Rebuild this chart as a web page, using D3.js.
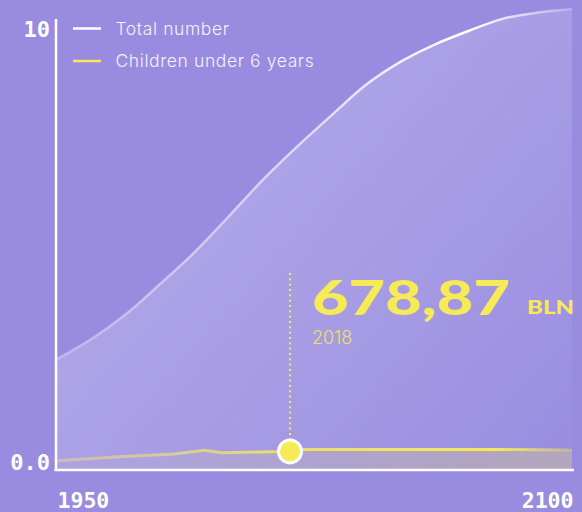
<!DOCTYPE html>
<html>
<head>
<meta charset="utf-8">
<script src="https://cdn.jsdelivr.net/npm/d3@7"></script>
<style>
  html, body { margin: 0; padding: 0; background: #988be0; }
  svg { display: block; }
</style>
</head>
<body>
<div id="chart"></div>
<script>
  // total population, billions
  const totalYears = [1950, 1960, 1970, 1980, 1990, 2000, 2010, 2020, 2030, 2040, 2050, 2060, 2070, 2080, 2090, 2100];
  const totalValues = [2.38, 2.84, 3.41, 4.11, 4.84, 5.67, 6.52, 7.29, 8.01, 8.71, 9.24, 9.64, 9.96, 10.24, 10.38, 10.46];

  // children under 6
  const childYears = [1950, 1968, 1984, 1993, 1998, 2008, 2018, 2022, 2040, 2060, 2080, 2095, 2100];
  const childValues = [0.03, 0.12, 0.185, 0.27, 0.215, 0.23, 0.245, 0.29, 0.29, 0.29, 0.29, 0.285, 0.28];

  const yTicks = [0, 10];
  const yTickLabels = ['0.0', '10'];
  const xTicks = [1950, 2100];
  const seriesNames = ['Total number', 'Children under 6 years'];

  const annYear = 2018;
  const annValue = '678,87';
  const annUnit = 'BLN';

  const width = 582;
  const height = 512;
  const margin = { top: 19, right: 8, bottom: 42, left: 56 };
  const bottom = height - margin.bottom;

  const yellow = '#f7ea57';

  const total = totalYears.map((d, i) => ({ year: d, value: totalValues[i] }));
  const kids = childYears.map((d, i) => ({ year: d, value: childValues[i] }));

  const svg = d3.select('#chart')
    .append('svg')
    .attr('width', width)
    .attr('height', height);

  const x = d3.scaleLinear()
    .domain([1950, 2100])
    .range([57, 572]);

  const y = d3.scaleLinear()
    .domain([0, 10])
    .range([462, 29]);

  const defs = svg.append('defs');

  const areaGrad = defs.append('linearGradient')
    .attr('id', 'areaGrad')
    .attr('gradientUnits', 'userSpaceOnUse')
    .attr('x1', 180).attr('y1', 120).attr('x2', 560).attr('y2', 460);
  areaGrad.append('stop').attr('offset', 0).attr('stop-color', '#fff').attr('stop-opacity', 0.24);
  areaGrad.append('stop').attr('offset', 0.5).attr('stop-color', '#fff').attr('stop-opacity', 0.14);
  areaGrad.append('stop').attr('offset', 1).attr('stop-color', '#fff').attr('stop-opacity', 0.02);

  const lineGrad = defs.append('linearGradient')
    .attr('id', 'lineGrad')
    .attr('gradientUnits', 'userSpaceOnUse')
    .attr('x1', x(1950)).attr('y1', 0).attr('x2', x(2100)).attr('y2', 0);
  lineGrad.append('stop').attr('offset', 0).attr('stop-color', '#fff').attr('stop-opacity', 0.3);
  lineGrad.append('stop').attr('offset', 0.5).attr('stop-color', '#fff').attr('stop-opacity', 0.65);
  lineGrad.append('stop').attr('offset', 0.8).attr('stop-color', '#fff').attr('stop-opacity', 1);
  lineGrad.append('stop').attr('offset', 1).attr('stop-color', '#fff').attr('stop-opacity', 0.25);

  const kidAreaGrad = defs.append('linearGradient')
    .attr('id', 'kidAreaGrad')
    .attr('gradientUnits', 'userSpaceOnUse')
    .attr('x1', x(1950)).attr('y1', 0).attr('x2', x(2100)).attr('y2', 0);
  kidAreaGrad.append('stop').attr('offset', 0).attr('stop-color', yellow).attr('stop-opacity', 0.02);
  kidAreaGrad.append('stop').attr('offset', 1).attr('stop-color', yellow).attr('stop-opacity', 0.27);

  const kidLineGrad = defs.append('linearGradient')
    .attr('id', 'kidLineGrad')
    .attr('gradientUnits', 'userSpaceOnUse')
    .attr('x1', x(1950)).attr('y1', 0).attr('x2', x(2100)).attr('y2', 0);
  kidLineGrad.append('stop').attr('offset', 0).attr('stop-color', '#e8d890').attr('stop-opacity', 0.5);
  kidLineGrad.append('stop').attr('offset', 0.45).attr('stop-color', yellow).attr('stop-opacity', 0.85);
  kidLineGrad.append('stop').attr('offset', 0.85).attr('stop-color', yellow).attr('stop-opacity', 1);
  kidLineGrad.append('stop').attr('offset', 1).attr('stop-color', yellow).attr('stop-opacity', 0.3);

  // total
  svg.append('path')
    .datum(total)
    .attr('fill', 'url(#areaGrad)')
    .attr('d', d3.area().x(d => x(d.year)).y0(bottom).y1(d => y(d.value)).curve(d3.curveMonotoneX));

  svg.append('path')
    .datum(total)
    .attr('fill', 'none')
    .attr('stroke', 'url(#lineGrad)')
    .attr('stroke-width', 2.5)
    .attr('d', d3.line().x(d => x(d.year)).y(d => y(d.value)).curve(d3.curveMonotoneX));

  // children
  svg.append('path')
    .datum(kids)
    .attr('fill', 'url(#kidAreaGrad)')
    .attr('d', d3.area().x(d => x(d.year)).y0(bottom).y1(d => y(d.value)));

  svg.append('path')
    .datum(kids)
    .attr('fill', 'none')
    .attr('stroke', 'url(#kidLineGrad)')
    .attr('stroke-width', 3)
    .attr('d', d3.line().x(d => x(d.year)).y(d => y(d.value)));

  // axes
  svg.append('line')
    .attr('x1', margin.left).attr('x2', margin.left)
    .attr('y1', margin.top).attr('y2', bottom + 1)
    .attr('stroke', '#fff').attr('stroke-width', 2.5);

  svg.append('line')
    .attr('x1', margin.left - 1.5).attr('x2', 574)
    .attr('y1', bottom).attr('y2', bottom)
    .attr('stroke', '#fff').attr('stroke-width', 2.5);

  function yAxis(g) {
    g.attr('transform', `translate(50,0)`)
      .call(d3.axisLeft(y).tickValues(yTicks).tickSize(0).tickPadding(0)
        .tickFormat(d => yTickLabels[yTicks.indexOf(d)]))
      .call(g => g.select('.domain').remove())
      .attr('font-family', 'DejaVu Sans Mono')
      .attr('font-weight', 'bold')
      .attr('font-size', '22px');
    g.selectAll('text').attr('fill', '#fff').attr('dy', '0.36em');
  }

  function xAxis(g) {
    g.attr('transform', `translate(0,${bottom})`)
      .call(d3.axisBottom(x).tickValues(xTicks).tickSize(0).tickFormat(d3.format('d')))
      .call(g => g.select('.domain').remove())
      .attr('font-family', 'DejaVu Sans Mono')
      .attr('font-weight', 'bold')
      .attr('font-size', '21.5px');
    g.selectAll('text')
      .attr('fill', '#fff')
      .attr('y', 37.5)
      .attr('dy', 0)
      .attr('text-anchor', (d, i) => i === 0 ? 'start' : 'end')
      .attr('dx', (d, i) => i === 0 ? 0 : 1);
  }

  svg.append('g').call(yAxis);
  svg.append('g').call(xAxis);

  // legend
  const legend = svg.append('g').attr('transform', 'translate(73,28.5)');
  seriesNames.forEach((name, i) => {
    const row = legend.append('g').attr('transform', `translate(0,${i * 32.5})`);
    row.append('line')
      .attr('x1', 0).attr('x2', 28)
      .attr('stroke', i === 0 ? '#fff' : yellow)
      .attr('stroke-width', 2.5);
    row.append('text')
      .attr('x', 42.5)
      .attr('dy', '0.36em')
      .attr('fill', '#f4f2fc')
      .attr('font-family', 'Inter')
      .attr('font-weight', 300)
      .attr('font-size', '17.5px')
      .attr('letter-spacing', '0.6px')
      .text(name);
  });

  // annotation
  const kid = kids.find(d => d.year === annYear);
  const ax = Math.round(x(annYear));

  svg.append('line')
    .attr('x1', ax).attr('x2', ax)
    .attr('y1', 273).attr('y2', y(kid.value) - 12)
    .attr('stroke', yellow)
    .attr('stroke-width', 2)
    .attr('stroke-dasharray', '2,3.33');

  svg.append('circle')
    .attr('cx', ax)
    .attr('cy', y(kid.value))
    .attr('r', 11.5)
    .attr('fill', yellow)
    .attr('stroke', '#fff')
    .attr('stroke-width', 3);

  svg.append('text')
    .attr('x', 312)
    .attr('y', 315)
    .attr('fill', yellow)
    .attr('font-family', 'Lato')
    .attr('font-weight', 900)
    .attr('font-size', '47px')
    .attr('textLength', 198)
    .attr('lengthAdjust', 'spacingAndGlyphs')
    .text(annValue);

  svg.append('text')
    .attr('x', 527)
    .attr('y', 313.5)
    .attr('fill', yellow)
    .attr('font-family', 'Lato')
    .attr('font-weight', 900)
    .attr('font-size', '19.5px')
    .attr('textLength', 47)
    .attr('lengthAdjust', 'spacingAndGlyphs')
    .text(annUnit);

  svg.append('text')
    .attr('x', 312)
    .attr('y', 343.5)
    .attr('fill', yellow)
    .attr('fill-opacity', 0.9)
    .attr('font-family', 'Inter')
    .attr('font-weight', 300)
    .attr('font-size', '18px')
    .text(annYear);
</script>
</body>
</html>
